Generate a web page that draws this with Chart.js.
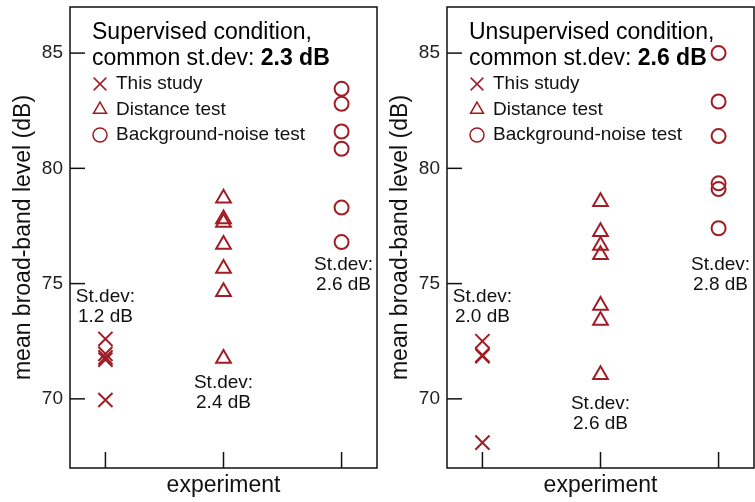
<!DOCTYPE html>
<html lang="en">
<head>
  <meta charset="UTF-8">
  <title>Mean broad-band level per experiment</title>
  <script src="https://cdn.jsdelivr.net/npm/chart.js"></script>
  <style>
    body { margin: 0; background: #fff; }
    .wrap { position: relative; width: 755px; height: 502px; }
    .panel { position: absolute; top: 0; }
  </style>
</head>
<body>
  <div class="wrap">
    <canvas id="supChart" class="panel" style="left:0" width="378" height="502"></canvas>
    <canvas id="unsChart" class="panel" style="left:377px" width="378" height="502"></canvas>
  </div>

  <script>
    // experiment positions on the x axis and tick values
    const experiments = [1, 2, 3];
    const yTicks = [70, 75, 80, 85];
    const seriesNames = ["This study", "Distance test", "Background-noise test"];

    // supervised condition
    const supThisStudy = [72.6, 71.95, 71.8, 71.7, 69.95];
    const supDistance = [78.7, 77.8, 77.65, 76.7, 75.65, 74.65, 71.75];
    const supNoise = [83.45, 82.8, 81.6, 80.85, 78.3, 76.8];
    const supStdev = ["1.2 dB", "2.4 dB", "2.6 dB"];
    const supCommon = "2.3 dB";

    // unsupervised condition
    const unsThisStudy = [72.5, 71.9, 71.85, 68.1];
    const unsDistance = [78.55, 77.25, 76.65, 76.25, 74.05, 73.4, 71.05];
    const unsNoise = [85.0, 82.9, 81.4, 79.35, 79.1, 77.4];
    const unsStdev = ["2.0 dB", "2.6 dB", "2.8 dB"];
    const unsCommon = "2.6 dB";

    const red = "#a11d25";
    const fontFam = "'Liberation Sans', Arial, sans-serif";
    Chart.defaults.font.family = fontFam;

    const styles = [
      { pointStyle: "crossRot", radius: 10, legendRadius: 9 },
      { pointStyle: "triangle", radius: 8.5, legendRadius: 7.5 },
      { pointStyle: "circle", radius: 7, legendRadius: 7 }
    ];

    function line(ctx, x1, y1, x2, y2) {
      ctx.beginPath();
      ctx.moveTo(x1, y1);
      ctx.lineTo(x2, y2);
      ctx.stroke();
    }

    // no extra room for half tick labels
    function noPad(s) {
      s.paddingTop = 0; s.paddingBottom = 0;
      s.paddingLeft = 0; s.paddingRight = 0;
    }

    const decor = {
      id: "decor",
      afterDraw(chart, args, opts) {
        const { ctx, chartArea: a, scales } = chart;
        ctx.save();
        ctx.strokeStyle = "#111";
        ctx.lineWidth = 1.5;
        ctx.strokeRect(a.left, a.top, a.right - a.left, a.bottom - a.top);
        // inward ticks
        scales.y.ticks.forEach(t => {
          const py = scales.y.getPixelForValue(t.value);
          line(ctx, a.left, py, a.left + 15, py);
        });
        scales.x.ticks.forEach(t => {
          const px = scales.x.getPixelForValue(t.value);
          line(ctx, px, a.bottom, px, a.bottom - 16);
        });

        // heading
        ctx.fillStyle = "#000";
        ctx.textBaseline = "middle";
        ctx.textAlign = "left";
        ctx.font = "23px " + fontFam;
        const tx = a.left + 22;
        ctx.fillText(opts.title, tx, 33);
        const lead = "common st.dev: ";
        ctx.fillText(lead, tx, 59);
        const w = ctx.measureText(lead).width;
        ctx.font = "bold 23px " + fontFam;
        ctx.fillText(opts.common, tx + w, 59);

        // legend
        ctx.font = "19px " + fontFam;
        seriesNames.forEach((name, i) => {
          const y = 84 + i * 25.5;
          ctx.strokeStyle = red;
          ctx.fillStyle = "rgba(0,0,0,0)";
          Chart.helpers.drawPoint(ctx, {
            pointStyle: styles[i].pointStyle,
            radius: styles[i].legendRadius,
            borderWidth: 2, rotation: 0
          }, a.left + 30, y);
          ctx.fillStyle = "#111";
          ctx.fillText(name, a.left + 46, y);
        });

        // st.dev notes
        ctx.textAlign = "center";
        ctx.fillStyle = "#111";
        opts.stdev.forEach((s, i) => {
          const px = scales.x.getPixelForValue(experiments[i]) + (i === 2 ? 2 : 0);
          const py = scales.y.getPixelForValue(opts.noteY[i]);
          ctx.fillText("St.dev:", px, py - 10);
          ctx.fillText(s, px, py + 10);
        });
        ctx.restore();
      }
    };

    function makeChart(id, groups, title, common, stdev, noteY) {
      const datasets = groups.map((vals, i) => ({
        label: seriesNames[i],
        data: vals.map(v => ({ x: experiments[i], y: v })),
        pointStyle: styles[i].pointStyle,
        pointRadius: styles[i].radius,
        pointBorderColor: red,
        pointBackgroundColor: "rgba(0,0,0,0)",
        pointBorderWidth: 2,
        showLine: false
      }));

      new Chart(document.getElementById(id), {
        type: "scatter",
        data: { datasets },
        options: {
          responsive: false,
          animation: false,
          layout: { autoPadding: false, padding: { top: 7, right: 1, left: 0, bottom: 0 } },
          plugins: {
            legend: { display: false },
            tooltip: { enabled: false },
            decor: { title, common, stdev, noteY }
          },
          scales: {
            x: {
              type: "linear", min: 0.7, max: 3.3,
              afterBuildTicks: s => { s.ticks = experiments.map(v => ({ value: v })); },
              afterFit: s => { s.height = 34; noPad(s); },
              grid: { display: false },
              border: { display: false },
              ticks: { display: false },
              title: {
                display: true, text: "experiment", color: "#111",
                font: { size: 23 }, padding: { top: 0, bottom: 3 }
              }
            },
            y: {
              min: 67, max: 87,
              afterBuildTicks: s => { s.ticks = yTicks.map(v => ({ value: v })); },
              afterFit: s => { s.width = 70; noPad(s); },
              grid: { display: false, drawTicks: false },
              border: { display: false },
              ticks: { color: "#222", font: { size: 19 }, padding: 7 },
              title: {
                display: true, text: "mean broad-band level (dB)", color: "#111",
                font: { size: 23 }, padding: { top: 10, bottom: 0 }
              }
            }
          }
        },
        plugins: [decor]
      });
    }

    makeChart("supChart", [supThisStudy, supDistance, supNoise],
      "Supervised condition,", supCommon, supStdev, [74.0, 70.25, 75.4]);
    makeChart("unsChart", [unsThisStudy, unsDistance, unsNoise],
      "Unsupervised condition,", unsCommon, unsStdev, [74.0, 69.35, 75.4]);
  </script>
</body>
</html>
